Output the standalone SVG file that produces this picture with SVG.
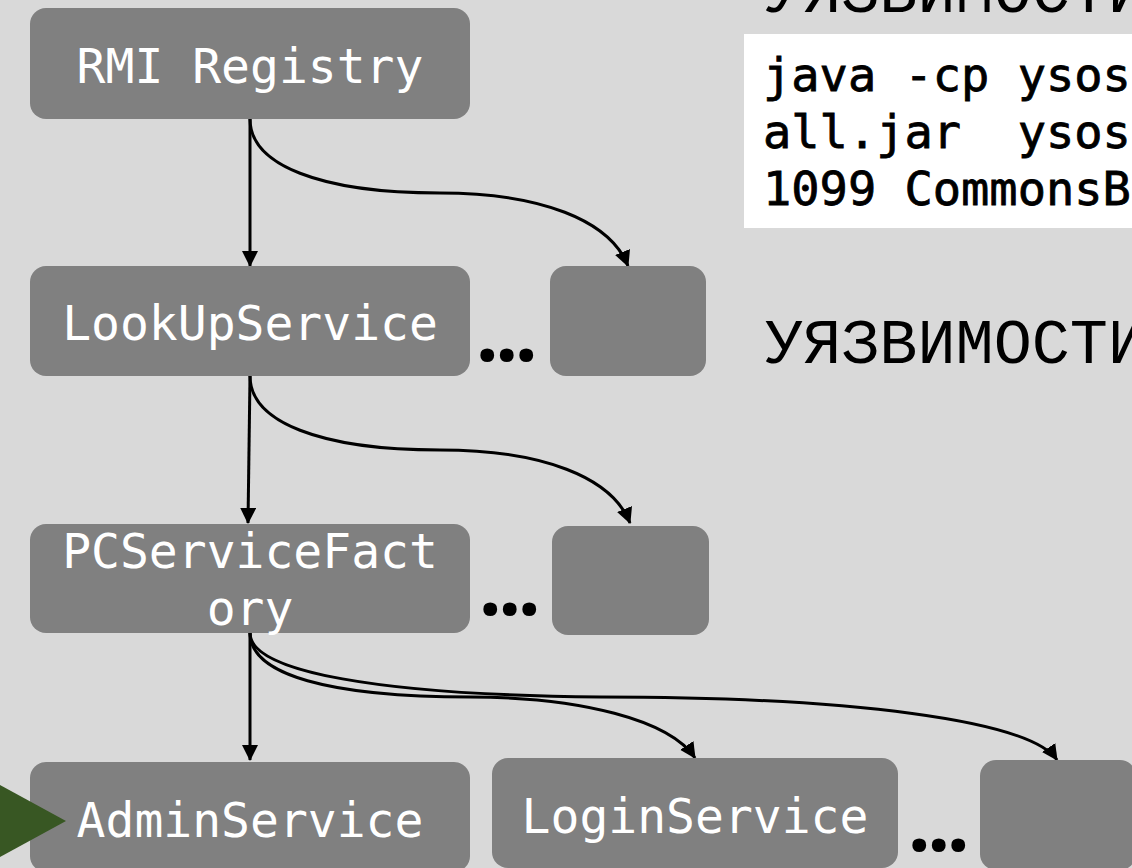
<svg xmlns="http://www.w3.org/2000/svg" width="1132" height="868" viewBox="0 0 1132 868">
  <defs>
    <style>
      .bg { fill: #d9d9d9; }
      .box { fill: #808080; }
      .lbl { font-family: "DejaVu Sans Mono", monospace; font-size: 48px; fill: #ffffff; text-anchor: middle; }
      .edge { fill: none; stroke: #000000; stroke-width: 3; marker-end: url(#arrow); }
      .more { font-family: "Noto Sans", "DejaVu Sans", sans-serif; font-weight: bold; font-size: 80px; fill: #000000; letter-spacing: -3px; }
      .head { font-family: "Liberation Mono", "DejaVu Sans Mono", monospace; font-size: 63.5px; fill: #000000; }
      .code { font-family: "DejaVu Sans Mono", monospace; font-size: 47px; fill: #000000; stroke: #000000; stroke-width: 0.8; white-space: pre; }
    </style>
    <marker id="arrow" viewBox="0 0 16 16" markerWidth="16" markerHeight="16" refX="15" refY="8" orient="auto" markerUnits="userSpaceOnUse">
      <path d="M0,0 L16,8 L0,16 Z" fill="#000000"/>
    </marker>
  </defs>

  <rect class="bg" x="0" y="0" width="1132" height="868"/>

  <!-- headings and command sample on the right -->
  <text class="head" x="765" y="12">УЯЗВИМОСТИ</text>
  <rect x="744" y="34" width="400" height="194" fill="#ffffff"/>
  <text class="code" x="763" y="91" xml:space="preserve">java -cp ysos</text>
  <text class="code" x="763" y="148" xml:space="preserve">all.jar  ysos</text>
  <text class="code" x="763" y="205" xml:space="preserve">1099 CommonsB</text>
  <text class="head" x="765" y="363">УЯЗВИМОСТИ</text>

  <!-- connectors -->
  <g id="connectors">
    <path class="edge" d="M250,119 L250,266"/>
    <path class="edge" d="M250,119 C250,165 320,193 440,193 C540,193 610,220 628,266"/>
    <path class="edge" d="M250,376 L248,523"/>
    <path class="edge" d="M250,376 C250,422 320,450 440,450 C542,450 612,477 630,523"/>
    <path class="edge" d="M250,633 L250,760"/>
    <path class="edge" d="M250,633 C250,675 330,697 470,697 C580,697 670,720 695,758"/>
    <path class="edge" d="M250,633 C250,672 380,695 600,697 C850,697 1030,720 1057,760"/>
  </g>

  <!-- nodes -->
  <g id="rmi-registry">
    <rect class="box" x="30" y="8" width="440" height="111" rx="16"/>
    <text class="lbl" x="250" y="83">RMI Registry</text>
  </g>
  <g id="lookup-service">
    <rect class="box" x="30" y="266" width="440" height="110" rx="16"/>
    <text class="lbl" x="250" y="340">LookUpService</text>
  </g>
  <g id="other-service-1">
    <rect class="box" x="550" y="266" width="156" height="110" rx="16"/>
  </g>
  <g id="pc-service-factory">
    <rect class="box" x="30" y="524" width="440" height="109" rx="16"/>
    <text class="lbl" x="250" y="568">PCServiceFact</text>
    <text class="lbl" x="250" y="625">ory</text>
  </g>
  <g id="other-service-2">
    <rect class="box" x="552" y="526" width="157" height="109" rx="16"/>
  </g>
  <g id="admin-service">
    <rect class="box" x="30" y="762" width="440" height="110" rx="16"/>
    <text class="lbl" x="250" y="837">AdminService</text>
  </g>
  <g id="login-service">
    <rect class="box" x="492" y="758" width="406" height="110" rx="16"/>
    <text class="lbl" x="695" y="833">LoginService</text>
  </g>
  <g id="other-service-3">
    <rect class="box" x="980" y="760" width="156" height="110" rx="16"/>
  </g>

  <!-- "more siblings" markers -->
  <g id="ellipses">
    <text class="more" x="476" y="361">...</text>
    <text class="more" x="479" y="615">...</text>
    <text class="more" x="908" y="851">...</text>
  </g>

  <!-- pointer to the vulnerable service -->
  <polygon id="pointer" points="0,785 66,821 0,857" fill="#385723"/>
</svg>
